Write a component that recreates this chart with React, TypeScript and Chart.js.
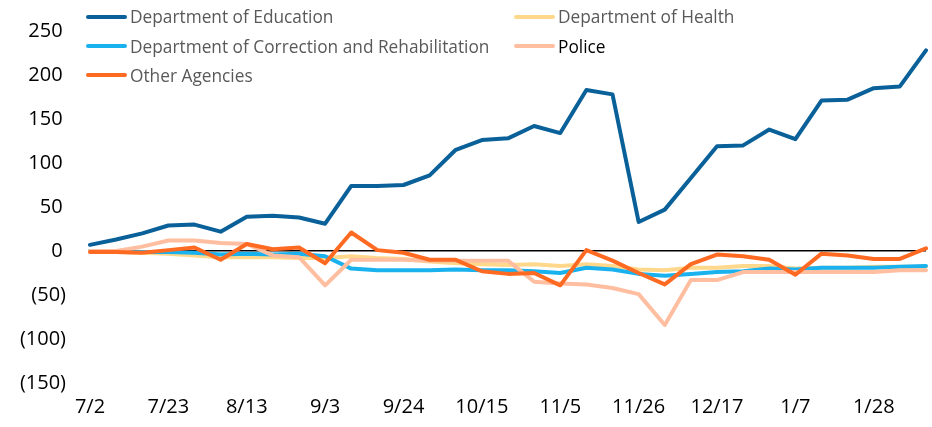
import React, { useEffect, useRef } from 'react';
import { Chart, registerables } from 'chart.js';

Chart.register(...registerables);

const dates = ['7/2','7/9','7/16','7/23','7/30','8/6','8/13','8/20','8/27','9/3','9/10','9/17','9/24','10/1','10/8','10/15','10/22','10/29','11/5','11/12','11/19','11/26','12/3','12/10','12/17','12/24','12/31','1/7','1/14','1/21','1/28','2/4','2/11'];

const education = [7,13,20,29,30,22,39,40,38,31,74,74,75,86,115,126,128,142,134,183,178,33,47,83,119,120,138,127,171,172,185,187,228];
const health = [0,-1,-2,-3,-5,-7,-7,-7,-8,-8,-6,-8,-9,-12,-14,-15,-16,-15,-17,-15,-17,-21,-22,-19,-19,-17,-17,-20,-19,-19,-18,-18,-18];
const correction = [0,0,-1,-1,-2,-4,-3,-4,-3,-6,-20,-22,-22,-22,-21,-22,-22,-23,-25,-19,-21,-26,-28,-26,-24,-23,-20,-21,-19,-19,-19,-18,-17];
const police = [0,0,5,12,12,9,8,-5,-7,-39,-10,-10,-10,-11,-11,-11,-11,-35,-37,-38,-42,-49,-84,-33,-33,-24,-24,-24,-24,-24,-24,-22,-22];
const other = [-1,-1,-2,1,4,-10,8,2,4,-14,21,1,-2,-10,-10,-23,-26,-25,-39,1,-11,-25,-38,-15,-4,-6,-10,-27,-3,-5,-9,-9,3];

const seriesNames = ['Department of Education','Department of Health','Department of Correction and Rehabilitation','Police','Other Agencies'];
const seriesColors = ['#0A6098','#FFD88C','#1AB2EE','#FFBEA0','#FF6A22'];
const legendTextColors = ['#595959','#595959','#595959','#000000','#595959'];

const yMin = -150;
const yMax = 250;
const yStep = 50;

const fmt = (v: number) => (v < 0 ? '(' + Math.abs(v) + ')' : v + '\u2009');

export default function App() {
  const ref = useRef<HTMLCanvasElement | null>(null);

  useEffect(() => {
    document.body.style.margin = '0';
    const canvas = ref.current;
    if (!canvas) return;
    const seriesData = [education, health, correction, police, other];
    const chart = new Chart(canvas, {
      type: 'line',
      data: {
        labels: dates,
        datasets: seriesData.map((d, i) => ({
          label: seriesNames[i],
          data: d,
          borderColor: seriesColors[i],
          backgroundColor: seriesColors[i],
          borderWidth: 4,
          pointRadius: 0,
          tension: 0,
          fill: false,
          borderCapStyle: 'round',
          borderJoinStyle: 'round',
          order: seriesData.length - i,
        })),
      },
      options: {
        responsive: false,
        animation: false,
        layout: { padding: { top: 31, right: 6, bottom: 0, left: 0 } },
        plugins: { legend: { display: false }, tooltip: { enabled: false } },
        scales: {
          x: {
            type: 'category',
            offset: false,
            grid: { display: false, drawTicks: true, tickLength: 12 },
            border: { display: false },
            ticks: {
              autoSkip: false,
              maxRotation: 0,
              minRotation: 0,
              padding: 0,
              color: '#000',
              font: { family: 'Open Sans', size: 20 },
              callback: (_v: any, i: number) => (i % 3 === 0 ? dates[i] : ''),
            },
            afterFit: (s: any) => { s.height = 44; },
          },
          y: {
            min: yMin,
            max: yMax,
            grid: {
              color: (ctx: any) => (ctx.tick && ctx.tick.value === 0 ? '#000000' : 'rgba(0,0,0,0)'),
              lineWidth: 1.5,
              drawTicks: true,
              tickLength: 24,
              tickColor: 'rgba(0,0,0,0)',
            },
            border: { display: false },
            ticks: {
              stepSize: yStep,
              padding: 0,
              color: '#000',
              font: { family: 'Open Sans', size: 20 },
              callback: (v: any) => fmt(Number(v)),
            },
            afterFit: (s: any) => { s.width = 90; },
          },
        },
      },
    });
    return () => chart.destroy();
  }, []);

  const legendCols = [86, 514];
  const legendRows = [16.7, 46, 75];

  return (
    <div style={{ position: 'relative', width: 932, height: 427 }}>
      <canvas ref={ref} width={932} height={427} style={{ display: 'block', width: 932, height: 427 }} />
      {seriesNames.map((name, i) => (
        <div
          key={name}
          style={{
            position: 'absolute',
            left: legendCols[i % 2],
            top: legendRows[Math.floor(i / 2)] - 12,
            height: 24,
            display: 'flex',
            alignItems: 'center',
            whiteSpace: 'nowrap',
            fontFamily: 'Open Sans',
            fontSize: 17.3,
            color: legendTextColors[i],
          }}
        >
          <span style={{ display: 'inline-block', width: 41, height: 4, borderRadius: 2, background: seriesColors[i], marginRight: 3 }} />
          <span>{name}</span>
        </div>
      ))}
    </div>
  );
}
